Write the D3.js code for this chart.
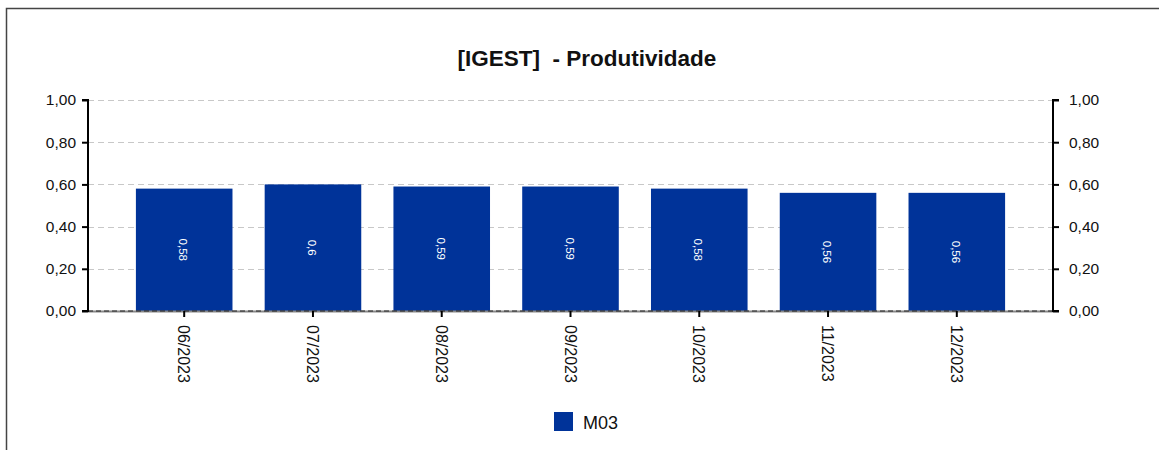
<!DOCTYPE html>
<html>
<head>
<meta charset="utf-8">
<script src="https://cdn.jsdelivr.net/npm/d3@7"></script>
<style>
  html, body { margin: 0; padding: 0; background: #fff; }
  svg { display: block; font-family: Arial, "Liberation Sans", sans-serif; }
</style>
</head>
<body>
<svg id="chart" width="1159" height="450"></svg>
<script>
// Monthly productivity index
const months = ["06/2023", "07/2023", "08/2023", "09/2023", "10/2023", "11/2023", "12/2023"];
const m03 = [0.58, 0.6, 0.59, 0.59, 0.58, 0.56, 0.56];
const yTicks = [0, 0.2, 0.4, 0.6, 0.8, 1.0];
const seriesName = "M03";
const chartTitle = "[IGEST]  - Produtividade";

const svg = d3.select("#chart");
const W = 1159, H = 450;
const plot = { left: 88, right: 1053, top: 100, bottom: 311 };
const barColor = "#003399";
const fontFamily = "Arial, 'Liberation Sans', sans-serif";
const fmt = v => d3.format(".2f")(v).replace(".", ",");

// outer frame (top and left edges)
svg.append("path")
  .attr("d", `M6.5,${H} L6.5,8.5 L${W},8.5`)
  .attr("fill", "none").attr("stroke", "#444").attr("stroke-width", 1.5);

// title
svg.append("text")
  .attr("x", 587).attr("y", 66)
  .attr("text-anchor", "middle")
  .attr("font-size", 22.5).attr("font-weight", "bold")
  .attr("fill", "#111")
  .style("white-space", "pre")
  .text(chartTitle);

const x = d3.scaleBand()
  .domain(months)
  .range([plot.left, plot.right])
  .paddingInner(0.25)
  .paddingOuter(0.372);

const y = d3.scaleLinear()
  .domain([0, 1])
  .range([plot.bottom, plot.top]);

// gridlines
svg.append("g").selectAll("line")
  .data(yTicks.filter(t => t > 0))
  .join("line")
  .attr("x1", plot.left).attr("x2", plot.right)
  .attr("y1", d => Math.round(y(d)) + 0.5).attr("y2", d => Math.round(y(d)) + 0.5)
  .attr("stroke", "#c8c8c8").attr("stroke-dasharray", "6,4");

const rows = months.map((m, i) => ({ m, v: m03[i] }));

// bars
svg.append("g").selectAll("rect")
  .data(rows)
  .join("rect")
  .attr("x", d => x(d.m))
  .attr("width", x.bandwidth())
  .attr("y", d => y(d.v))
  .attr("height", d => y(0) - y(d.v))
  .attr("fill", barColor);

// value labels inside bars
svg.append("g").selectAll("text")
  .data(rows)
  .join("text")
  .attr("transform", d => `translate(${x(d.m) + x.bandwidth() / 2 - 5},${(y(d.v) + y(0)) / 2}) rotate(90)`)
  .attr("text-anchor", "middle")
  .attr("font-size", 11.5)
  .attr("fill", "#fff")
  .text(d => String(d.v).replace(".", ","));

// zero baseline
svg.append("line")
  .attr("x1", plot.left).attr("x2", plot.right)
  .attr("y1", plot.bottom + 0.5).attr("y2", plot.bottom + 0.5)
  .attr("stroke", "#888").attr("stroke-width", 2);
svg.append("line")
  .attr("x1", plot.left).attr("x2", plot.right)
  .attr("y1", plot.bottom).attr("y2", plot.bottom)
  .attr("stroke", "#222").attr("stroke-width", 1).attr("stroke-dasharray", "5,3");

// left axis
const leftAxis = svg.append("g")
  .attr("transform", `translate(${plot.left},0)`)
  .call(d3.axisLeft(y).tickValues(yTicks).tickFormat(fmt).tickSize(6).tickPadding(6));
// right axis
const rightAxis = svg.append("g")
  .attr("transform", `translate(${plot.right},0)`)
  .call(d3.axisRight(y).tickValues(yTicks).tickFormat(fmt).tickSize(6).tickPadding(10));

[leftAxis, rightAxis].forEach(g => {
  g.select(".domain").attr("stroke", "#000").attr("stroke-width", 2);
  g.selectAll(".tick line").attr("stroke", "#000").attr("stroke-width", 2);
  g.selectAll(".tick text").attr("font-size", 15.5).attr("fill", "#111")
    .attr("font-family", fontFamily);
});
leftAxis.select(".domain").attr("d", `M-6,${plot.top}H0V${plot.bottom}H-6`);
rightAxis.select(".domain").attr("d", `M6,${plot.top}H0V${plot.bottom}H6`);

// bottom axis
const bottomAxis = svg.append("g")
  .attr("transform", `translate(0,${plot.bottom})`)
  .call(d3.axisBottom(x).tickSize(6).tickSizeOuter(0));
bottomAxis.select(".domain").remove();
bottomAxis.selectAll(".tick line").attr("stroke", "#000").attr("stroke-width", 2);
bottomAxis.selectAll(".tick text")
  .attr("font-size", 16).attr("fill", "#111")
  .attr("font-family", fontFamily)
  .attr("text-anchor", "start")
  .attr("dy", null)
  .attr("transform", "translate(-6,14) rotate(90)")
  .attr("x", 0).attr("y", 0);

// legend
const legend = svg.append("g").attr("transform", "translate(554,412)");
legend.append("rect").attr("width", 19).attr("height", 19).attr("fill", barColor);
legend.append("text").attr("x", 29).attr("y", 17)
  .attr("font-size", 18).attr("fill", "#111").text(seriesName);
</script>
</body>
</html>
